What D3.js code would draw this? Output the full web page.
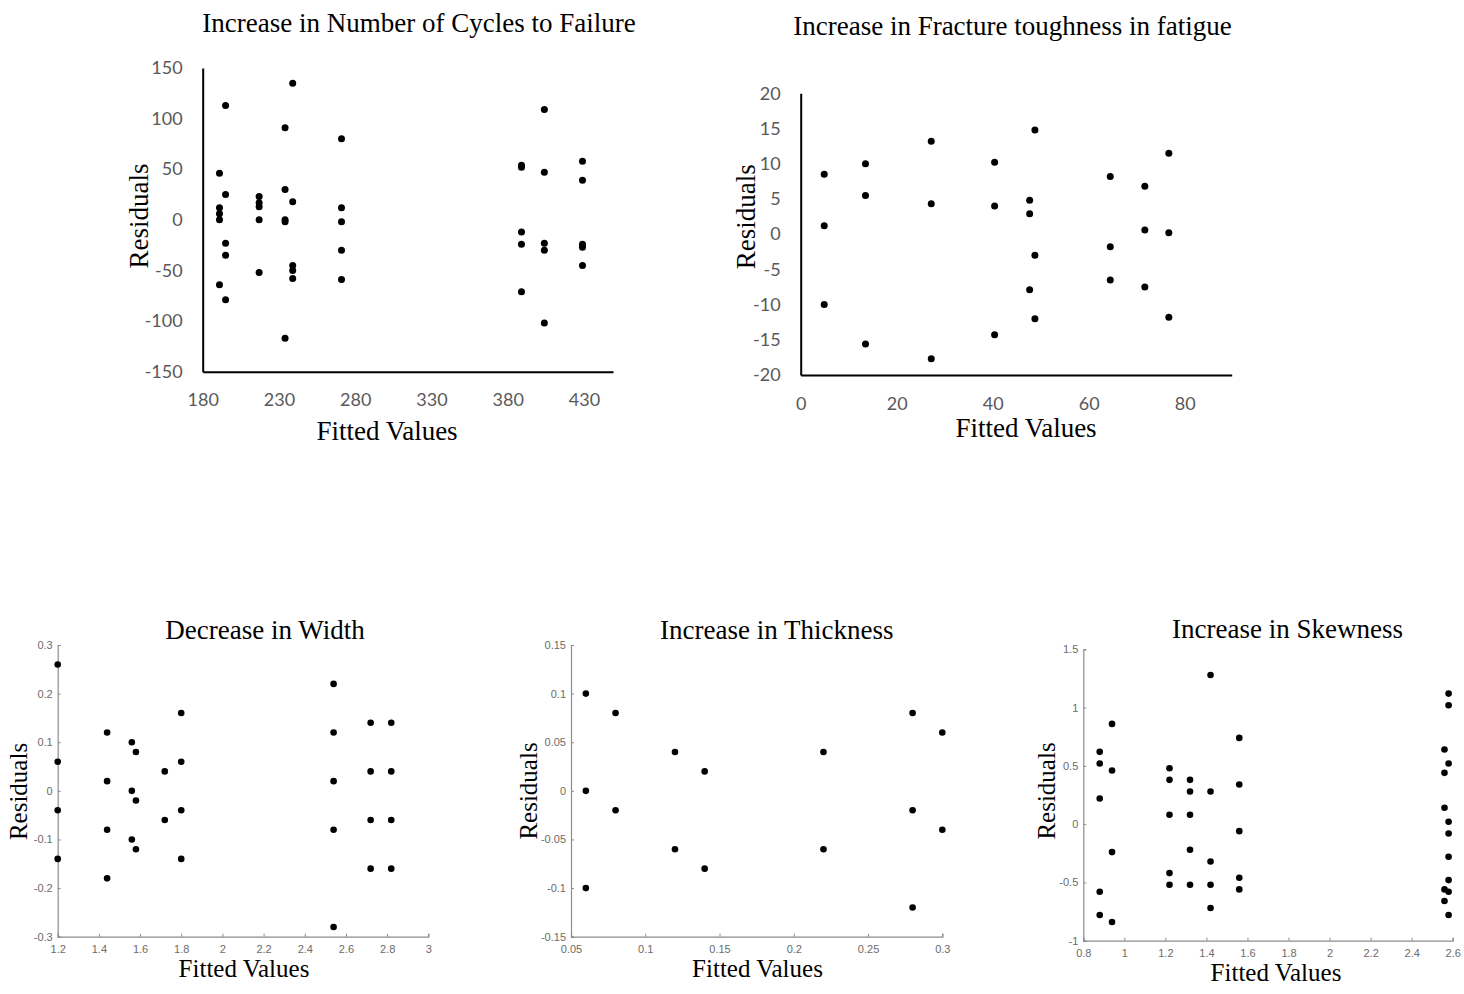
<!DOCTYPE html>
<html>
<head>
<meta charset="utf-8">
<script src="https://cdn.jsdelivr.net/npm/d3@7"></script>
<style>
  body { margin: 0; background: #fff; }
  svg { display: block; background: #fff; }
</style>
</head>
<body>
<svg width="1464" height="994"></svg>
<script>
// ---- data ----
var cyclesFitted = [191,191,191,191,191, 195,195,195,195,195, 217,217,217,217,217,
                    234,234,234,234,234, 239,239,239,239,239, 271,271,271,271,271,
                    389,389,389,389,389, 404,404,404,404,404, 429,429,429,429,429];
var cyclesResid  = [46,12,6,0,-64, 113,25,-23,-35,-79, 23,17,13,0,-52,
                    91,30,0,-2,-117, 135,18,-45,-50,-58, 80,12,-2,-30,-59,
                    54,52,-12,-24,-71, 109,47,-23,-30,-102, 58,39,-24,-27,-45];
var cyclesXTicks = [180, 230, 280, 330, 380, 430];
var cyclesYTicks = [-150, -100, -50, 0, 50, 100, 150];

var toughFitted = [4.9,4.9,4.9, 13.5,13.5,13.5, 27.2,27.2,27.2, 40.4,40.4,40.4,
                   47.7,47.7,47.7, 48.8,48.8,48.8, 64.5,64.5,64.5, 71.7,71.7,71.7, 76.7,76.7,76.7];
var toughResid  = [8.5,1.2,-10, 10,5.5,-15.6, 13.2,4.3,-17.7, 10.2,4,-14.3,
                   4.8,2.9,-7.9, 14.8,-3,-12, 8.2,-1.8,-6.5, 6.8,0.6,-7.5, 11.5,0.2,-11.8];
var toughXTicks = [0, 20, 40, 60, 80];
var toughYTicks = [-20, -15, -10, -5, 0, 5, 10, 15, 20];

var widthFitted = [1.2,1.2,1.2,1.2, 1.44,1.44,1.44,1.44, 1.56,1.56,1.56, 1.58,1.58,1.58,
                   1.72,1.72, 1.8,1.8,1.8,1.8, 2.54,2.54,2.54,2.54,2.54,
                   2.72,2.72,2.72,2.72, 2.82,2.82,2.82,2.82];
var widthResid  = [0.26,0.06,-0.04,-0.14, 0.12,0.02,-0.08,-0.18, 0.1,0,-0.1, 0.08,-0.02,-0.12,
                   0.04,-0.06, 0.16,0.06,-0.04,-0.14, 0.22,0.12,0.02,-0.08,-0.28,
                   0.14,0.04,-0.06,-0.16, 0.14,0.04,-0.06,-0.16];
var widthXTicks = [1.2, 1.4, 1.6, 1.8, 2, 2.2, 2.4, 2.6, 2.8, 3];
var widthYTicks = [-0.3, -0.2, -0.1, 0, 0.1, 0.2, 0.3];

var thickFitted = [0.06,0.06,0.06, 0.08,0.08, 0.12,0.12, 0.14,0.14, 0.22,0.22,
                   0.28,0.28,0.28, 0.3,0.3];
var thickResid  = [0.1,0,-0.1, 0.08,-0.02, 0.04,-0.06, 0.02,-0.08, 0.04,-0.06,
                   0.08,-0.02,-0.12, 0.06,-0.04];
var thickXTicks = [0.05, 0.1, 0.15, 0.2, 0.25, 0.3];
var thickYTicks = [-0.15, -0.1, -0.05, 0, 0.05, 0.1, 0.15];

var skewFitted = [0.88,0.88,0.88,0.88,0.88, 0.94,0.94,0.94,0.94,
                  1.22,1.22,1.22,1.22,1.22, 1.32,1.32,1.32,1.32,1.32,
                  1.42,1.42,1.42,1.42,1.42, 1.56,1.56,1.56,1.56,1.56,
                  2.56,2.56,2.56,2.56,2.56, 2.58,2.58,2.58,2.58,2.58,2.58,2.58,2.58,2.58];
var skewResid  = [0.62,0.52,0.22,-0.58,-0.78, 0.86,0.46,-0.24,-0.84,
                  0.48,0.38,0.08,-0.42,-0.52, 0.38,0.28,0.08,-0.22,-0.52,
                  1.28,0.28,-0.32,-0.52,-0.72, 0.74,0.34,-0.06,-0.46,-0.56,
                  0.64,0.44,0.14,-0.56,-0.66, 1.12,1.02,0.52,0.02,-0.08,-0.28,-0.48,-0.58,-0.78];
var skewXTicks = [0.8, 1, 1.2, 1.4, 1.6, 1.8, 2, 2.2, 2.4, 2.6];
var skewYTicks = [-1, -0.5, 0, 0.5, 1, 1.5];

var svg = d3.select("svg");

// excel style panels (top row)
var excelPanels = [
  { title: "Increase in Number of Cycles to Failure", xs: cyclesFitted, ys: cyclesResid,
    xd: [180, 449], yd: [-150, 150], xt: cyclesXTicks, yt: cyclesYTicks,
    l: 202.7, r: 613, t: 68, b: 371.7,
    titleX: 419, titleY: 31.7, xlabX: 387, xlabY: 440, ylabX: 148.3, ylabY: 216 },
  { title: "Increase in Fracture toughness in fatigue", xs: toughFitted, ys: toughResid,
    xd: [0, 89.8], yd: [-20, 20], xt: toughXTicks, yt: toughYTicks,
    l: 800.7, r: 1231.7, t: 93.3, b: 375,
    titleX: 1012.5, titleY: 34.7, xlabX: 1026, xlabY: 436.7, ylabX: 755, ylabY: 216.7 }
];

// matlab style panels (bottom row)
var matlabPanels = [
  { title: "Decrease in Width", xs: widthFitted, ys: widthResid,
    xd: [1.2, 3], yd: [-0.3, 0.3], xt: widthXTicks, yt: widthYTicks,
    l: 57.7, r: 428.3, t: 645, b: 936.7,
    titleX: 265, titleY: 638.7, xlabX: 244, xlabY: 976.7, ylabX: 26.7, ylabY: 791.5 },
  { title: "Increase in Thickness", xs: thickFitted, ys: thickResid,
    xd: [0.05, 0.3], yd: [-0.15, 0.15], xt: thickXTicks, yt: thickYTicks,
    l: 571, r: 942.3, t: 645, b: 936.7,
    titleX: 776.7, titleY: 638.7, xlabX: 757.5, xlabY: 976.7, ylabX: 536.7, ylabY: 791 },
  { title: "Increase in Skewness", xs: skewFitted, ys: skewResid,
    xd: [0.8, 2.6], yd: [-1, 1.5], xt: skewXTicks, yt: skewYTicks,
    l: 1083.3, r: 1452.7, t: 649.3, b: 940.7,
    titleX: 1287.5, titleY: 638, xlabX: 1276, xlabY: 980.7, ylabX: 1055, ylabY: 791 }
];

excelPanels.forEach(function (p) { drawPanel(p, false); });
matlabPanels.forEach(function (p) { drawPanel(p, true); });

function drawPanel(p, matlab) {
  var x = d3.scaleLinear().domain(p.xd).range([p.l, p.r]);
  var y = d3.scaleLinear().domain(p.yd).range([p.b, p.t]);
  var g = svg.append("g");
  var fmt = function (d) { return String(d); };  // plain hyphen minus like the original

  var xAxis = d3.axisBottom(x).tickValues(p.xt).tickFormat(fmt).tickSizeOuter(0);
  var yAxis = d3.axisLeft(y).tickValues(p.yt).tickFormat(fmt).tickSizeOuter(0);

  if (matlab) {
    xAxis.tickSize(-3).tickPadding(9);
    yAxis.tickSize(-3).tickPadding(5);
  } else {
    xAxis.tickSize(0).tickPadding(22);
    yAxis.tickSize(0).tickPadding(20);
  }

  var gx = g.append("g").attr("transform", "translate(0," + p.b + ")").call(xAxis);
  var gy = g.append("g").attr("transform", "translate(" + p.l + ",0)").call(yAxis);

  [gx, gy].forEach(function (a) {
    a.selectAll("text")
      .attr("fill", matlab ? "#6b6b6b" : "#595959")
      .style("font-family", matlab ? "'Liberation Sans', Arial, sans-serif" : "Lato, 'Open Sans', sans-serif")
      .style("font-size", matlab ? "11px" : "18px");
    a.select(".domain")
      .attr("stroke", matlab ? "#8c8c8c" : "#000")
      .attr("stroke-width", matlab ? 1.2 : 2);
    a.selectAll(".tick line").attr("stroke", "#8c8c8c");
  });

  // dots
  g.append("g").selectAll("circle")
    .data(p.xs.map(function (v, i) { return [v, p.ys[i]]; }))
    .enter().append("circle")
    .attr("cx", function (d) { return x(d[0]); })
    .attr("cy", function (d) { return y(d[1]); })
    .attr("r", matlab ? 3.3 : 3.5)
    .attr("fill", "#000");

  var serif = "'Liberation Serif', 'Times New Roman', serif";
  var labSize = matlab ? "25px" : "27px";

  g.append("text")
    .attr("x", p.titleX).attr("y", p.titleY)
    .attr("text-anchor", "middle")
    .style("font-family", serif).style("font-size", "27px")
    .text(p.title);

  g.append("text")
    .attr("x", p.xlabX).attr("y", p.xlabY)
    .attr("text-anchor", "middle")
    .style("font-family", serif).style("font-size", labSize)
    .text("Fitted Values");

  g.append("text")
    .attr("transform", "translate(" + p.ylabX + "," + p.ylabY + ") rotate(-90)")
    .attr("text-anchor", "middle")
    .style("font-family", serif).style("font-size", labSize)
    .text("Residuals");
}
</script>
</body>
</html>
